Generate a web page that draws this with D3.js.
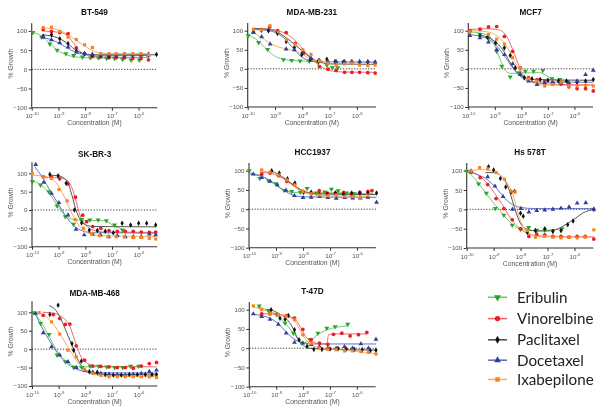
<!DOCTYPE html>
<html><head><meta charset="utf-8">
<script src="https://cdn.jsdelivr.net/npm/d3@7"></script>
<style>body{margin:0;background:#fff} svg{display:block; will-change:transform; opacity:0.999}</style>
</head><body>
<svg id="chart" width="602" height="414"></svg>
<script>
// ---------------- DATA ----------------
const drugs = ["Eribulin", "Vinorelbine", "Paclitaxel", "Docetaxel", "Ixabepilone"];
const cellLines = ["BT-549", "MDA-MB-231", "MCF7", "SK-BR-3", "HCC1937", "Hs 578T", "MDA-MB-468", "T-47D"];
const xTickExponents = [-10, -9, -8, -7, -6];
const yTickValues = [-100, -50, 0, 50, 100];
const xAxisLabel = "Concentration (M)";
const yAxisLabel = "% Growth";

// points: [log10 concentration (M), % growth], one list per drug in `drugs` order
const BT549_points = [
  [[-9.96,96],[-9.63,84],[-9.32,66],[-9.05,50],[-8.72,41],[-8.43,36],[-8.1,32],[-7.8,30],[-7.5,30],[-7.2,29],[-6.9,29],[-6.6,26],[-6.28,24],[-5.97,24]],
  [[-9.57,104],[-9.26,99],[-8.95,96],[-8.64,93],[-8.33,56],[-8.02,41],[-7.73,34],[-7.42,32],[-7.11,30],[-6.84,30],[-6.53,30],[-6.22,28],[-5.91,28],[-5.63,25]],
  [[-9.57,86],[-9.26,90],[-8.95,80],[-8.64,67],[-8.33,48],[-8.02,41],[-7.73,37],[-7.42,37],[-7.11,34],[-6.84,37],[-6.53,38],[-6.22,38],[-5.91,38],[-5.63,39],[-5.33,39]],
  [[-9.57,84],[-9.26,77],[-8.95,69],[-8.64,58],[-8.33,45],[-8.02,41],[-7.73,39],[-7.42,37],[-7.11,37],[-6.84,34],[-6.53,34],[-6.22,37],[-5.91,37],[-5.63,37]],
  [[-9.57,109],[-9.26,110],[-8.95,99],[-8.64,84],[-8.33,78],[-8.02,64],[-7.73,57],[-7.42,41],[-7.11,41],[-6.84,41],[-6.53,41],[-6.22,41],[-5.91,41],[-5.63,39]]
];
const BT549_curves = [
  [[-10,97],[-9.6,86],[-9.3,66],[-9.0,48],[-8.7,38],[-8.3,32],[-7.6,30],[-5.95,30]],
  [[-9.6,100],[-9.0,97],[-8.7,90],[-8.45,70],[-8.3,55],[-8.1,42],[-7.8,35],[-7.3,32],[-5.6,31]],
  [[-9.6,90],[-9.2,86],[-8.9,78],[-8.6,64],[-8.35,50],[-8.1,42],[-7.7,38],[-5.33,38]],
  [[-9.6,83],[-9.3,78],[-9.0,69],[-8.7,57],[-8.4,46],[-8.1,40],[-7.6,37],[-5.6,36]],
  [[-9.6,108],[-9.2,106],[-8.9,100],[-8.6,88],[-8.3,74],[-8.0,60],[-7.7,48],[-7.4,42],[-7.0,41],[-5.6,41]]
];

const MDAMB231_points = [
  [[-9.98,87],[-9.6,69],[-9.27,51],[-8.69,24],[-8.39,22],[-8.08,21],[-7.75,20],[-7.41,17],[-7.1,10],[-6.9,3],[-6.7,3]],
  [[-9.79,96],[-9.2,110],[-8.9,100],[-8.59,95],[-8.26,67],[-7.96,41],[-7.68,24],[-7.37,6],[-7.06,-1],[-6.76,-4],[-6.45,-9],[-6.18,-9],[-5.9,-9],[-5.6,-10],[-5.33,-11]],
  [[-9.5,101],[-9.24,100],[-8.91,93],[-8.59,72],[-8.29,56],[-8.02,37],[-7.71,25],[-7.41,21],[-7.1,25],[-6.8,19],[-6.5,18],[-6.2,18],[-5.9,18],[-5.6,18],[-5.33,17]],
  [[-9.79,95],[-9.49,84],[-9.18,65],[-8.59,52],[-8.29,50],[-7.98,45],[-7.68,28],[-7.37,22],[-7.06,19],[-6.76,19],[-6.45,19],[-6.18,19],[-5.9,19],[-5.6,19],[-5.33,17]],
  [[-9.79,104],[-9.49,102],[-9.18,113],[-8.87,97],[-8.57,76],[-8.26,64],[-7.98,50],[-7.68,38],[-7.37,21],[-7.06,15],[-6.76,10],[-6.45,13],[-6.18,15],[-5.9,10],[-5.6,8],[-5.33,10]]
];
const MDAMB231_curves = [
  [[-10,90],[-9.7,78],[-9.4,58],[-9.1,38],[-8.8,27],[-8.4,22],[-7.8,20],[-7.4,18]],
  [[-9.8,105],[-9.2,104],[-8.8,98],[-8.5,88],[-8.2,70],[-7.9,45],[-7.6,22],[-7.3,5],[-7.0,-4],[-6.6,-8],[-5.33,-9]],
  [[-9.8,106],[-9.3,104],[-8.9,96],[-8.6,82],[-8.3,65],[-8.0,47],[-7.7,30],[-7.4,19],[-7.0,13],[-5.33,12]],
  [[-9.8,103],[-9.3,101],[-8.9,92],[-8.6,76],[-8.35,55],[-8.1,36],[-7.85,24],[-7.5,19],[-5.33,18]],
  [[-9.8,95],[-9.5,82],[-9.2,68],[-8.9,58],[-8.5,51],[-8.1,42],[-7.8,30],[-7.5,22],[-7.0,19],[-5.33,18]]
];

const MCF7_points = [
  [[-9.94,97],[-9.56,90],[-9.24,80],[-8.93,46],[-8.74,7],[-8.42,-21],[-8.1,-10],[-7.85,-6],[-7.54,-6],[-7.19,-4],[-6.85,-26],[-6.55,-28],[-6.25,-33]],
  [[-9.94,100],[-9.56,104],[-9.24,110],[-8.93,111],[-8.64,85],[-8.33,46],[-8.04,3],[-7.73,-23],[-7.41,-28],[-7.12,-32],[-6.82,-35],[-6.5,-40],[-6.21,-47],[-5.9,-52],[-5.58,-52],[-5.29,-58]],
  [[-9.56,86],[-9.28,83],[-8.97,68],[-8.64,55],[-8.42,35],[-8.23,3],[-7.89,-23],[-7.6,-26],[-7.29,-28],[-7.0,-30],[-6.6,-32],[-6.3,-32],[-5.9,-35],[-5.58,-32],[-5.29,-28]],
  [[-9.94,87],[-9.56,81],[-9.24,70],[-8.93,50],[-8.64,37],[-8.33,13],[-8.04,-15],[-7.73,-32],[-7.41,-41],[-7.12,-37],[-6.82,-37],[-6.5,-37],[-6.21,-37],[-5.9,-32],[-5.58,-15],[-5.29,-4]],
  [[-9.94,97],[-9.24,90],[-8.93,78],[-8.64,65],[-8.33,29],[-8.04,3],[-7.73,-26],[-7.41,-32],[-7.12,-45],[-6.82,-41],[-6.5,-35],[-6.21,-45],[-5.9,-45],[-5.58,-43],[-5.29,-45]]
];
const MCF7_curves = [
  [[-10,97],[-9.5,93],[-9.2,85],[-9.0,60],[-8.8,25],[-8.6,-5],[-8.4,-12],[-8.1,-11],[-7.3,-10],[-7.0,-20],[-6.7,-30],[-6.25,-33]],
  [[-10,103],[-9.3,105],[-8.9,103],[-8.6,90],[-8.35,55],[-8.1,10],[-7.9,-20],[-7.6,-35],[-7.0,-40],[-5.29,-42]],
  [[-9.6,88],[-9.4,86],[-9.0,72],[-8.7,50],[-8.45,20],[-8.2,-8],[-7.9,-22],[-7.5,-28],[-5.29,-30]],
  [[-10,90],[-9.6,86],[-9.2,76],[-8.9,58],[-8.6,30],[-8.3,0],[-8.0,-22],[-7.7,-32],[-7.2,-35],[-5.29,-35]],
  [[-10,100],[-9.4,98],[-9.0,90],[-8.7,72],[-8.4,40],[-8.15,5],[-7.9,-22],[-7.6,-36],[-7.2,-42],[-5.29,-44]]
];

const SKBR3_points = [
  [[-9.99,77],[-9.68,68],[-9.37,50],[-9.06,11],[-8.75,-18],[-8.44,-39],[-8.14,-26],[-7.83,-27],[-7.52,-27],[-7.21,-29],[-6.9,-41],[-6.6,-55]],
  [[-9.58,91],[-9.27,90],[-8.96,85],[-8.65,71],[-8.37,35],[-8.1,-14],[-7.95,-32],[-7.72,-45],[-7.42,-50],[-7.11,-56],[-6.8,-58],[-6.5,-58],[-6.2,-58],[-5.9,-60],[-5.6,-61],[-5.36,-60]],
  [[-9.33,97],[-9.02,93],[-8.72,73],[-8.41,0],[-8.14,-35],[-7.85,-55],[-7.55,-56],[-7.25,-58],[-6.95,-62],[-6.62,-36],[-6.3,-41],[-6.0,-36],[-5.7,-36],[-5.36,-41]],
  [[-9.86,124],[-9.56,75],[-9.27,45],[-8.99,20],[-8.65,-14],[-8.35,-53],[-8.04,-68],[-7.73,-66],[-7.43,-68],[-7.12,-73],[-6.8,-70],[-6.5,-73],[-6.2,-73],[-5.9,-73],[-5.6,-66],[-5.36,-68]],
  [[-9.99,100],[-9.58,91],[-9.27,86],[-8.99,56],[-8.68,25],[-8.38,-26],[-8.07,-50],[-7.77,-64],[-7.47,-70],[-7.15,-73],[-6.84,-73],[-6.53,-73],[-6.2,-75],[-5.9,-75],[-5.6,-77],[-5.36,-79]]
];
const SKBR3_curves = [
  [[-10,80],[-9.7,70],[-9.4,50],[-9.1,18],[-8.8,-12],[-8.5,-25],[-8.2,-28],[-7.3,-29],[-7.0,-40],[-6.7,-50],[-6.55,-53]],
  [[-9.6,88],[-9.0,88],[-8.7,82],[-8.5,60],[-8.35,25],[-8.2,-15],[-8.0,-40],[-7.7,-55],[-7.3,-60],[-5.36,-61]],
  [[-9.35,95],[-9.0,93],[-8.7,80],[-8.5,40],[-8.35,0],[-8.2,-25],[-8.0,-40],[-7.7,-45],[-5.36,-46]],
  [[-9.9,118],[-9.6,88],[-9.3,50],[-9.0,15],[-8.7,-20],[-8.4,-45],[-8.1,-57],[-7.7,-62],[-5.36,-63]],
  [[-10,95],[-9.4,90],[-9.1,75],[-8.8,38],[-8.5,-10],[-8.2,-45],[-7.9,-63],[-7.5,-70],[-5.36,-72]]
];

const HCC1937_points = [
  [[-9.99,100],[-9.6,80],[-9.28,74],[-9.0,66],[-8.7,49],[-8.42,46],[-8.1,44],[-7.85,54],[-7.5,42],[-7.2,45],[-6.95,52],[-6.7,48],[-6.4,42],[-6.1,40]],
  [[-9.53,91],[-9.22,94],[-8.9,87],[-8.6,72],[-8.32,65],[-8.0,46],[-7.7,42],[-7.4,48],[-7.1,42],[-6.8,42],[-6.5,44],[-6.2,37],[-5.9,44],[-5.6,46],[-5.45,48]],
  [[-9.16,100],[-8.88,94],[-8.58,79],[-8.3,68],[-7.98,44],[-7.7,44],[-7.39,39],[-7.1,39],[-6.8,42],[-6.5,38],[-6.2,42],[-5.9,42],[-5.6,42],[-5.28,42]],
  [[-9.84,91],[-9.53,82],[-9.22,72],[-8.95,63],[-8.63,49],[-8.32,35],[-8.0,30],[-7.7,31],[-7.39,33],[-7.08,30],[-6.77,28],[-6.46,30],[-6.16,29],[-5.88,29],[-5.6,31],[-5.28,18]],
  [[-9.53,102],[-9.22,96],[-8.92,89],[-8.6,76],[-8.3,63],[-8.0,46],[-7.7,40],[-7.39,37],[-7.08,35],[-6.77,37],[-6.46,33],[-6.16,33],[-5.88,31],[-5.6,36]]
];
const HCC1937_curves = [
  [[-10,95],[-9.5,85],[-9.2,72],[-8.9,57],[-8.6,47],[-8.2,43],[-6.1,42]],
  [[-9.6,96],[-9.2,93],[-8.9,86],[-8.6,74],[-8.3,60],[-8.0,48],[-7.6,42],[-5.4,40]],
  [[-9.2,100],[-8.9,90],[-8.6,76],[-8.3,60],[-8.0,47],[-7.6,40],[-5.28,38]],
  [[-10,92],[-9.5,84],[-9.2,74],[-8.9,58],[-8.6,44],[-8.3,35],[-7.9,32],[-5.28,31]],
  [[-9.6,100],[-9.2,95],[-8.9,86],[-8.6,72],[-8.3,57],[-8.0,45],[-7.6,38],[-7.0,35],[-5.6,34]]
];

const HS578T_points = [
  [[-10,99],[-9.56,66],[-9.27,42],[-8.94,2],[-8.62,-15],[-8.31,-41],[-8.0,-52],[-7.7,-47],[-7.4,-54],[-7.1,-54],[-6.8,-55],[-6.46,-50]],
  [[-9.84,96],[-9.5,82],[-9.22,64],[-8.91,28],[-8.62,2],[-8.31,-27],[-8.0,-50],[-7.69,-70],[-7.4,-64],[-7.1,-66],[-6.8,-70],[-6.5,-70],[-6.2,-72],[-5.9,-70],[-5.6,-70],[-5.28,-77]],
  [[-9.19,110],[-9.0,102],[-8.75,80],[-8.55,58],[-8.35,45],[-8.22,46],[-8.0,-10],[-7.9,-18],[-7.75,-60],[-7.45,-55],[-7.1,-50],[-6.8,-57],[-6.5,-55],[-6.25,-40],[-6.05,-30],[-5.28,0]],
  [[-9.84,99],[-9.22,84],[-8.95,60],[-8.65,33],[-8.3,0],[-7.99,2],[-7.69,-7],[-7.4,-3],[-7.1,-2],[-6.8,0],[-6.5,3],[-6.2,6],[-5.9,16],[-5.58,17],[-5.28,0]],
  [[-9.84,99],[-9.52,108],[-9.22,105],[-8.9,95],[-8.6,78],[-8.35,47],[-8.2,45],[-7.75,-55],[-7.45,-72],[-7.12,-70],[-6.8,-72],[-6.5,-74],[-6.2,-72],[-5.9,-74],[-5.6,-72],[-5.28,-53]]
];
const HS578T_curves = [
  [[-10,98],[-9.7,80],[-9.4,52],[-9.1,25],[-8.8,0],[-8.5,-25],[-8.2,-45],[-7.9,-53],[-7.3,-55],[-6.9,-54],[-6.45,-50]],
  [[-9.85,97],[-9.6,90],[-9.3,72],[-9.0,45],[-8.7,15],[-8.4,-20],[-8.1,-45],[-7.8,-60],[-7.4,-68],[-6.8,-70],[-5.28,-71]],
  [[-9.3,95],[-9.0,95],[-8.7,85],[-8.45,55],[-8.25,10],[-8.05,-30],[-7.8,-50],[-7.4,-56],[-7.0,-56],[-6.6,-50],[-6.3,-38],[-6.0,-25],[-5.7,-10],[-5.28,0]],
  [[-10,98],[-9.6,90],[-9.2,75],[-8.9,55],[-8.6,30],[-8.3,12],[-8.0,5],[-7.5,2],[-5.28,2]],
  [[-9.9,100],[-9.4,103],[-9.0,97],[-8.7,85],[-8.45,62],[-8.25,30],[-8.05,-20],[-7.85,-50],[-7.6,-65],[-7.2,-71],[-5.28,-72]]
];

const MDAMB468_points = [
  [[-9.95,99],[-9.68,70],[-9.36,40],[-9.06,-16],[-8.75,-34],[-8.44,-50],[-8.13,-50],[-7.82,-46],[-7.5,-46],[-7.2,-48],[-6.9,-50],[-6.6,-50],[-6.3,-46],[-6.0,-46]],
  [[-9.58,92],[-9.2,94],[-8.96,83],[-8.75,67],[-8.58,68],[-8.34,9],[-8.03,-30],[-7.72,-46],[-7.42,-47],[-7.11,-48],[-6.8,-50],[-6.5,-50],[-6.2,-52],[-5.9,-46],[-5.6,-39],[-5.33,-36]],
  [[-9.33,94],[-9.02,119],[-8.5,15],[-8.44,-3],[-8.15,-33],[-7.85,-61],[-7.55,-63],[-7.25,-69],[-6.95,-70],[-6.65,-70],[-6.35,-69],[-6.05,-69],[-5.75,-69],[-5.5,-69],[-5.33,-69]],
  [[-9.86,97],[-9.58,44],[-9.27,6],[-8.96,-16],[-8.65,-34],[-8.34,-50],[-8.02,-57],[-7.72,-62],[-7.42,-66],[-7.11,-68],[-6.8,-69],[-6.5,-70],[-6.2,-68],[-5.9,-66],[-5.6,-61],[-5.33,-57]],
  [[-9.73,99],[-9.27,74],[-8.96,41],[-8.65,-3],[-8.34,-21],[-8.03,-55],[-7.72,-66],[-7.42,-71],[-7.11,-75],[-6.8,-75],[-6.5,-75],[-6.2,-75],[-5.9,-75],[-5.6,-75],[-5.33,-77]]
];
const MDAMB468_curves = [
  [[-10,100],[-9.7,78],[-9.4,40],[-9.1,0],[-8.8,-28],[-8.5,-43],[-8.2,-48],[-7.5,-48],[-6.0,-48]],
  [[-9.6,100],[-9.2,98],[-8.9,88],[-8.6,65],[-8.4,25],[-8.2,-15],[-8.0,-35],[-7.7,-44],[-7.3,-47],[-5.33,-48]],
  [[-9.35,118],[-9.1,105],[-8.9,80],[-8.7,45],[-8.5,10],[-8.3,-25],[-8.1,-50],[-7.8,-63],[-7.4,-68],[-5.33,-70]],
  [[-9.9,100],[-9.6,55],[-9.3,18],[-9.0,-15],[-8.7,-38],[-8.4,-52],[-8.1,-60],[-7.7,-64],[-5.33,-65]],
  [[-9.8,100],[-9.5,90],[-9.2,68],[-8.9,35],[-8.6,0],[-8.3,-35],[-8.0,-58],[-7.7,-68],[-7.3,-73],[-5.33,-75]]
];

const T47D_points = [
  [[-9.63,110],[-9.29,98],[-8.98,87],[-8.67,65],[-8.36,39],[-8.05,13],[-7.74,22],[-7.45,39],[-7.12,52],[-6.81,56],[-6.34,62]],
  [[-9.54,89],[-9.23,89],[-8.92,87],[-8.63,84],[-8.32,78],[-8.01,49],[-7.7,22],[-7.39,13],[-7.08,10],[-6.87,36],[-6.56,39],[-6.25,32],[-5.94,35],[-5.63,41]],
  [[-9.19,100],[-8.86,78],[-8.67,75],[-8.55,85],[-8.32,48],[-8.15,22],[-7.85,5],[-7.6,-3],[-7.3,-3],[-7.0,-2],[-6.7,-1],[-6.4,-2],[-6.1,-3],[-5.8,-4],[-5.5,-6],[-5.29,-5]],
  [[-9.85,89],[-9.54,82],[-9.23,75],[-8.92,62],[-8.63,39],[-8.32,15],[-8.01,13],[-7.7,9],[-7.39,4],[-7.08,0],[-6.77,0],[-6.46,4],[-6.16,0],[-5.85,11],[-5.57,0],[-5.29,23]],
  [[-9.85,110],[-9.54,100],[-9.23,89],[-8.92,87],[-8.63,82],[-8.32,74],[-8.01,35],[-7.7,13],[-7.39,0],[-7.08,-3],[-6.77,-4],[-6.46,-7],[-6.16,-7],[-5.85,-9],[-5.57,-11],[-5.29,-15]]
];
const T47D_curves = [
  [[-9.7,108],[-9.3,98],[-9.0,86],[-8.7,68],[-8.4,42],[-8.1,20],[-7.95,15],[-7.7,22],[-7.4,38],[-7.1,48],[-6.8,54],[-6.35,58]],
  [[-9.6,90],[-9.0,88],[-8.6,84],[-8.3,76],[-8.1,55],[-7.9,30],[-7.6,15],[-7.3,11],[-7.12,11],[-7.05,35],[-6.9,37],[-5.63,37]],
  [[-9.2,100],[-8.9,90],[-8.6,75],[-8.4,55],[-8.2,25],[-8.0,8],[-7.8,0],[-7.3,-2],[-5.29,-5]],
  [[-9.9,88],[-9.5,84],[-9.2,77],[-8.9,62],[-8.6,40],[-8.3,22],[-8.0,14],[-7.6,11],[-5.29,11]],
  [[-9.9,108],[-9.5,100],[-9.0,90],[-8.6,82],[-8.3,70],[-8.1,45],[-7.9,22],[-7.6,6],[-7.2,0],[-6.5,-5],[-5.29,-14]]
];

const panelPoints = [BT549_points, MDAMB231_points, MCF7_points, SKBR3_points, HCC1937_points, HS578T_points, MDAMB468_points, T47D_points];
const panelCurves = [BT549_curves, MDAMB231_curves, MCF7_curves, SKBR3_curves, HCC1937_curves, HS578T_curves, MDAMB468_curves, T47D_curves];

// ---------------- LAYOUT / STYLE ----------------
const xDomainExp = [-10, -5.3];
const panelLayout = [
  {x0: 31.7,  x1: 157.3, yBot: 107.7, y100: 31.0,  yMax: 120},
  {x0: 247.7, x1: 376.0, yBot: 107.0, y100: 30.7,  yMax: 120},
  {x0: 468.3, x1: 593.0, yBot: 107.0, y100: 30.7,  yMax: 120},
  {x0: 32.0,  x1: 157.3, yBot: 246.7, y100: 173.3, yMax: 130},
  {x0: 249.0, x1: 376.0, yBot: 247.7, y100: 170.7, yMax: 120},
  {x0: 466.7, x1: 593.3, yBot: 248.0, y100: 170.7, yMax: 120},
  {x0: 32.0,  x1: 157.3, yBot: 386.0, y100: 312.3, yMax: 130},
  {x0: 249.3, x1: 375.7, yBot: 386.7, y100: 309.7, yMax: 120}
];
const markerColors = ["#2aa52a", "#ee1d25", "#111111", "#2f3f9e", "#f5841f"];
const lineColors   = ["#72c872", "#f26a6f", "#555555", "#6574c0", "#f8ac6a"];
const markerTypes  = [d3.symbolTriangle, d3.symbolCircle, d3.symbolDiamond, d3.symbolTriangle, d3.symbolSquare];
const markerRotate = [180, 0, 0, 0, 0];
const markerSizes  = [11, 11, 9, 10, 10];

const svg = d3.select("#chart");
const axisFont = "Liberation Sans, Arial, sans-serif";

panelLayout.forEach((L, pi) => {
  const g = svg.append("g");
  const x = d3.scaleLog().domain(xDomainExp.map(e => Math.pow(10, e))).range([L.x0, L.x1]);
  const y = d3.scaleLinear().domain([-100, 100]).range([L.yBot, L.y100]);
  const yTopPx = y(L.yMax);

  // title
  g.append("text").attr("x", (L.x0 + L.x1) / 2).attr("y", L.y100 - 16)
    .attr("text-anchor", "middle").attr("font-family", axisFont)
    .attr("font-weight", "bold").attr("font-size", 8.2).attr("fill", "#111")
    .text(cellLines[pi]);

  // y axis
  const yAxis = d3.axisLeft(y).tickValues(yTickValues).tickSize(3).tickPadding(1.5);
  const ya = g.append("g").attr("transform", `translate(${L.x0},0)`).call(yAxis);
  ya.select(".domain").remove();
  ya.append("line").attr("x1", 0).attr("x2", 0).attr("y1", yTopPx).attr("y2", L.yBot)
    .attr("stroke", "#333").attr("stroke-width", 1.1);
  ya.selectAll(".tick line").attr("stroke", "#333");
  ya.selectAll(".tick text").attr("font-family", axisFont).attr("font-size", 6.2).attr("fill", "#555");

  // x axis
  const xAxis = d3.axisBottom(x).tickValues(xTickExponents.map(e => Math.pow(10, e))).tickSize(3).tickFormat("");
  const xa = g.append("g").attr("transform", `translate(0,${L.yBot})`).call(xAxis);
  xa.select(".domain").attr("stroke", "#333").attr("stroke-width", 1.1).attr("d", `M${L.x0},0H${L.x1}`);
  xa.selectAll(".tick line").attr("stroke", "#333");
  xa.selectAll(".tick").each(function(d, i) {
    const t = d3.select(this).append("text").attr("y", 10.5).attr("text-anchor", "middle")
      .attr("font-family", axisFont).attr("font-size", 6.2).attr("fill", "#555");
    t.append("tspan").text("10");
    t.append("tspan").attr("dy", -2.8).attr("font-size", 4.3).text(String(xTickExponents[i]));
  });

  // axis labels
  g.append("text").attr("x", (L.x0 + L.x1) / 2).attr("y", L.yBot + 17.5)
    .attr("text-anchor", "middle").attr("font-family", axisFont).attr("font-size", 6.8).attr("fill", "#555")
    .text(xAxisLabel);
  const ymid = (yTopPx + L.yBot) / 2 - 2;
  g.append("text").attr("transform", `translate(${L.x0 - 19},${ymid}) rotate(-90)`)
    .attr("text-anchor", "middle").attr("font-family", axisFont).attr("font-size", 6.8).attr("fill", "#555")
    .text(yAxisLabel);

  // zero reference line
  g.append("line").attr("x1", L.x0).attr("x2", L.x1).attr("y1", y(0)).attr("y2", y(0))
    .attr("stroke", "#222").attr("stroke-width", 0.9).attr("stroke-dasharray", "1.2,1.6");

  // fitted curves
  const line = d3.line().x(d => x(Math.pow(10, d[0]))).y(d => y(d[1])).curve(d3.curveMonotoneX);
  panelCurves[pi].forEach((c, di) => {
    g.append("path").attr("d", line(c)).attr("fill", "none")
      .attr("stroke", lineColors[di]).attr("stroke-width", 1);
  });

  // data points
  panelPoints[pi].forEach((pts, di) => {
    const sym = d3.symbol().type(markerTypes[di]).size(markerSizes[di]);
    g.append("g").selectAll("path").data(pts).join("path")
      .attr("d", sym)
      .attr("transform", d => `translate(${x(Math.pow(10, d[0]))},${y(d[1])}) rotate(${markerRotate[di]})`)
      .attr("fill", markerColors[di]);
  });
});

// legend
const legend = svg.append("g");
const legendRowsY = [297.3, 318.6, 339.8, 360.2, 379.5];
drugs.forEach((name, di) => {
  const row = legend.append("g").attr("transform", `translate(0,${legendRowsY[di]})`);
  row.append("line").attr("x1", 488).attr("x2", 507).attr("y1", 0).attr("y2", 0)
    .attr("stroke", lineColors[di]).attr("stroke-width", 1.6);
  row.append("path").attr("d", d3.symbol().type(markerTypes[di]).size(markerSizes[di] * 2))
    .attr("transform", `translate(497.5,0) rotate(${markerRotate[di]})`).attr("fill", markerColors[di]);
  row.append("text").attr("x", 517).attr("y", 0).attr("dy", "0.35em")
    .attr("font-family", "Lato, 'Open Sans', sans-serif").attr("font-size", 15.2).attr("fill", "#222")
    .text(name);
});
</script>
</body></html>
